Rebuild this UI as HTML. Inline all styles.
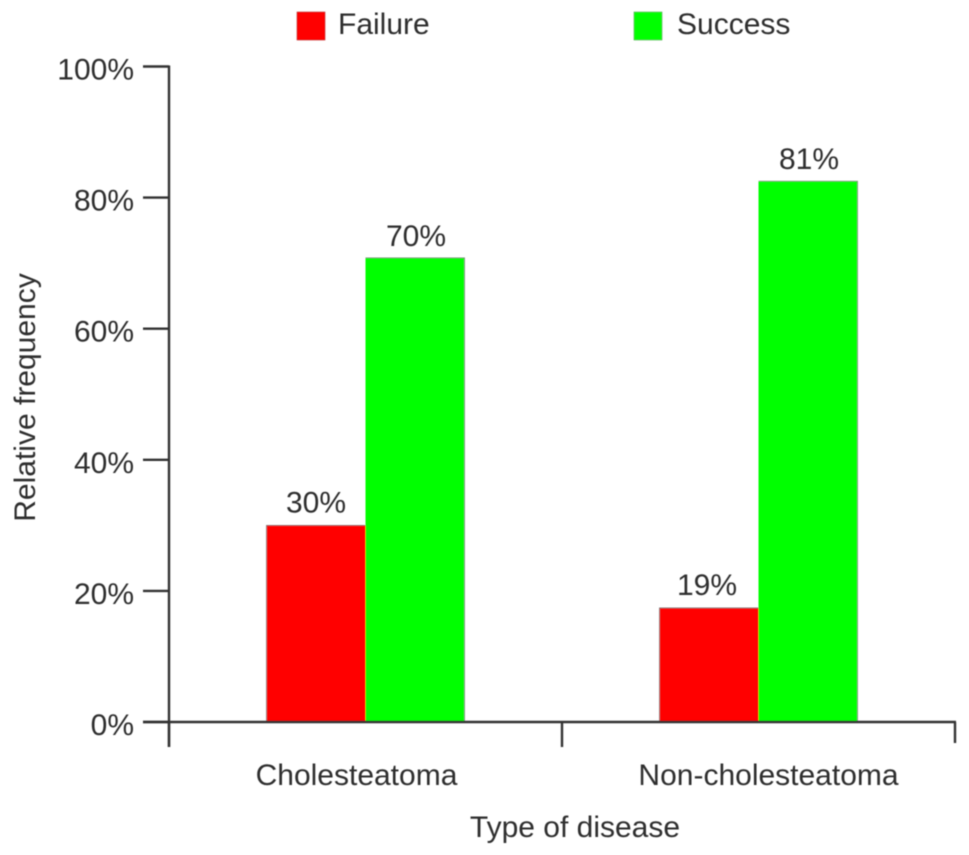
<!DOCTYPE html>
<html>
<head>
<meta charset="utf-8">
<title>Relative frequency by type of disease</title>
<style>
html,body{margin:0;padding:0;background:#fff;width:969px;height:855px;overflow:hidden}
svg{display:block}
text{font-family:"Liberation Sans",sans-serif;font-size:30px;fill:#2e2e2e}
</style>
</head>
<body>
<svg id="chart" width="969" height="855" viewBox="0 0 969 855" xmlns="http://www.w3.org/2000/svg">
<defs><filter id="soft" x="-5%" y="-5%" width="110%" height="110%"><feGaussianBlur stdDeviation="0.6"/></filter></defs>
<g id="root" filter="url(#soft)">
<g id="bars"></g>
<g id="axes"></g>
<g id="labels"></g>
<g>
<rect x="297" y="12" width="28" height="28" fill="#ff0000" stroke="#b33" stroke-width="0.6"/>
<text x="338" y="34">Failure</text>
<rect x="634" y="12" width="28" height="28" fill="#00ff00" stroke="#5a5" stroke-width="0.6"/>
<text x="677" y="34">Success</text>
</g>
<text transform="translate(35 397.5) rotate(-90)" text-anchor="middle">Relative frequency</text>
<text x="575" y="837" text-anchor="middle">Type of disease</text>
</g>
</svg>
<script>
const categories = ["Cholesteatoma", "Non-cholesteatoma"];
const failureValues = [30, 17.4];
const successValues = [70.8, 82.5];
const failureLabels = ["30%", "19%"];
const successLabels = ["70%", "81%"];
const yTicks = [0, 20, 40, 60, 80, 100];
const yTickLabels = ["0%", "20%", "40%", "60%", "80%", "100%"];

const NS = "http://www.w3.org/2000/svg";
const y0 = 722, yTop = 66.5, xLeft = 169, xRight = 955, barW = 99, axisColor = "#333";
function yScale(v) { return y0 - (v / 100) * (y0 - yTop); }
function bandWidth() { return (xRight - xLeft) / categories.length; }
function xCenter(i) { return xLeft + bandWidth() * (i + 0.5); }
function make(tag, attrs, parent, txt) {
  const el = document.createElementNS(NS, tag);
  for (const k in attrs) el.setAttribute(k, attrs[k]);
  if (txt !== undefined) el.textContent = txt;
  parent.appendChild(el);
  return el;
}
const barsG = document.getElementById("bars");
const axesG = document.getElementById("axes");
const labelsG = document.getElementById("labels");

categories.forEach(function (c, i) {
  const cx = xCenter(i);
  const r = make("rect", { x: cx - barW, y: yScale(failureValues[i]), width: barW, height: y0 - yScale(failureValues[i]), fill: "#ff0000" }, barsG);
  
  
  const g = make("rect", { x: cx, y: yScale(successValues[i]), width: barW, height: y0 - yScale(successValues[i]), fill: "#00ff00" }, barsG);
  
  
  const edge = make("path", { d: "M" + (cx - barW) + " " + y0 + "V" + yScale(failureValues[i]) + "H" + cx + "M" + cx + " " + yScale(successValues[i]) + "H" + (cx + barW) + "V" + y0, fill: "none", stroke: "#777", "stroke-width": 0.8 }, barsG);
  
  
  const lf = make("text", { x: cx - barW / 2 - i * 2, y: yScale(failureValues[i]) - 13, "text-anchor": "middle" }, labelsG, failureLabels[i]);
  
  
  const ls = make("text", { x: cx + barW / 2 + 1, y: yScale(successValues[i]) - 12, "text-anchor": "middle" }, labelsG, successLabels[i]);
  
  
  const cl = make("text", { x: cx - 9 + i * 19, y: 785, "text-anchor": "middle" }, axesG, c);
  
  
});

const yLine = make("line", { x1: xLeft, x2: xLeft, y1: yTop - 1, y2: 747, stroke: axisColor, "stroke-width": 2.4 }, axesG);


const xLine = make("line", { x1: 143, x2: xRight + 1, y1: y0, y2: y0, stroke: axisColor, "stroke-width": 2.4 }, axesG);



yTicks.forEach(function (t, i) {
  const tick = make("line", { x1: 143, x2: xLeft, y1: yScale(t), y2: yScale(t), stroke: axisColor, "stroke-width": 2.4 }, axesG);
  
  
  const lab = make("text", { x: 134, y: yScale(t) + 13, "text-anchor": "end" }, axesG, yTickLabels[i]);
  
  
});

for (let i = 0; i <= categories.length; i++) {
  const tx = xLeft + bandWidth() * i;
  const xt = make("line", { x1: tx, x2: tx, y1: y0, y2: i === categories.length ? 743 : 747, stroke: axisColor, "stroke-width": 2.4 }, axesG);
  
  
}
</script>
</body>
</html>
